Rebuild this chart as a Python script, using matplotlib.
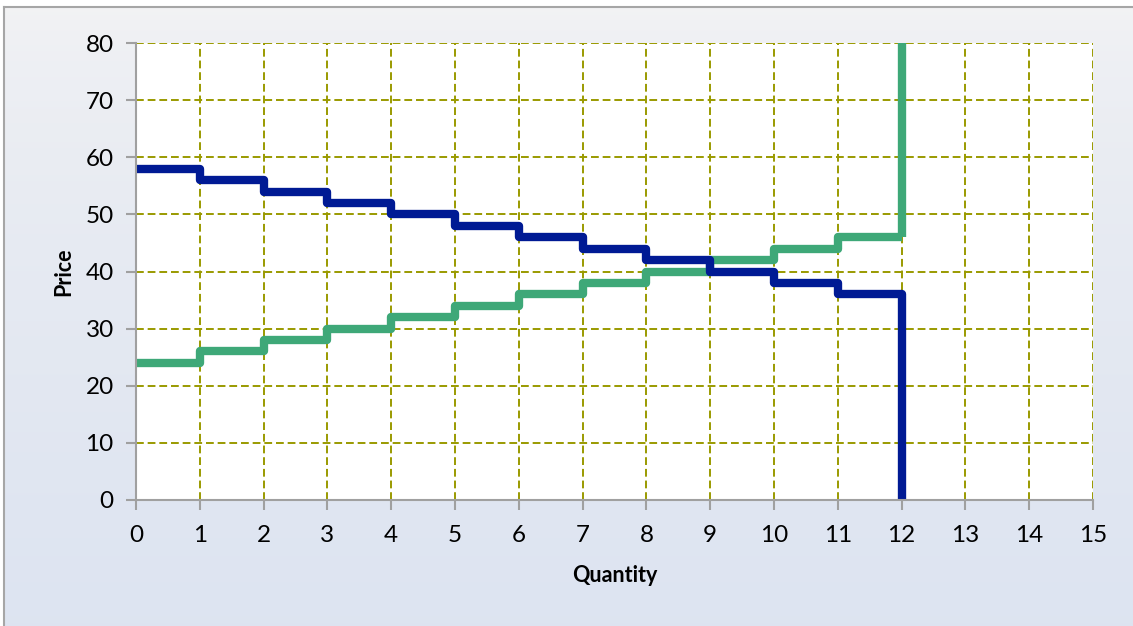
import matplotlib.pyplot as plt
import numpy as np
from matplotlib.lines import Line2D

# step values for each unit of quantity (unit i covers i..i+1)
quantity = list(range(13))
demand_prices = [58, 56, 54, 52, 50, 48, 46, 44, 42, 40, 38, 36]
supply_prices = [24, 26, 28, 30, 32, 34, 36, 38, 40, 42, 44, 46]
x_ticks = list(range(16))
y_ticks = [0, 10, 20, 30, 40, 50, 60, 70, 80]

plt.rcParams['font.family'] = ['Lato', 'DejaVu Sans']

W, H = 1133, 626
fig = plt.figure(figsize=(W / 100, H / 100), dpi=100)
fig.patch.set_facecolor('white')

# chart area background: soft vertical gradient with a thin grey frame
x0, y1 = 4 / W, 1 - 7 / H
bg = fig.add_axes([x0, 0, 1 - x0, y1], zorder=-10)
grad = np.linspace(0, 1, 256).reshape(-1, 1)
c_top = np.array([0.953, 0.953, 0.957])
c_bot = np.array([0.867, 0.894, 0.945])
img = c_top + (c_bot - c_top) * grad[..., None] ** 0.6
img = np.repeat(img, 2, axis=1)
bg.imshow(img, aspect='auto', extent=[0, 1, 0, 1], origin='upper')
bg.set_axis_off()
fig.add_artist(Line2D([x0, x0], [0, y1], color='#a6a6a6', lw=1.5))
fig.add_artist(Line2D([x0, 1], [y1, y1], color='#a6a6a6', lw=1.5))

ax = fig.add_axes([136 / W, 1 - 500 / H, (1093 - 136) / W, (500 - 43) / H])
ax.set_facecolor('white')

grid_color = '#9a9a00'
for v in x_ticks[1:]:
    ax.axvline(v, color=grid_color, lw=1.4, ls=(0, (4, 2)), zorder=1)
for v in y_ticks[1:]:
    ax.axhline(v, color=grid_color, lw=1.4, ls=(0, (4, 2)), zorder=1)

supply_x = quantity + [12]
supply_y = supply_prices + [supply_prices[-1], 80]
demand_x = quantity + [12]
demand_y = demand_prices + [demand_prices[-1], 0]

ax.step(supply_x[:-1], supply_y[:-1], where='post', color='#3ea878',
        lw=6, solid_joinstyle='round', solid_capstyle='butt', zorder=3)
ax.plot(supply_x[-2:], supply_y[-2:], color='#3ea878', lw=6,
        solid_capstyle='butt', zorder=3)
ax.step(demand_x[:-1], demand_y[:-1], where='post', color='#001a94',
        lw=6, solid_joinstyle='round', solid_capstyle='butt', zorder=4)
ax.plot(demand_x[-2:], demand_y[-2:], color='#001a94', lw=6,
        solid_joinstyle='round', solid_capstyle='round', zorder=4)

ax.set_xlim(0, 15)
ax.set_ylim(0, 80)
ax.set_xticks(x_ticks)
ax.set_yticks(y_ticks)
ax.tick_params(axis='both', direction='out', length=7, width=1.5,
               color='#a0a0a0', labelsize=17.5)
ax.tick_params(axis='x', pad=11)
ax.tick_params(axis='y', pad=9)
for side in ['top', 'right']:
    ax.spines[side].set_visible(False)
for side in ['left', 'bottom']:
    ax.spines[side].set_color('#a0a0a0')
    ax.spines[side].set_linewidth(1.5)
    ax.spines[side].set_zorder(5)

ax.set_xlabel('Quantity', fontsize=15.5, fontweight='bold', labelpad=14)
ax.set_ylabel('Price', fontsize=15.5, fontweight='bold', labelpad=8)

fig.savefig('out.png', dpi=100)
